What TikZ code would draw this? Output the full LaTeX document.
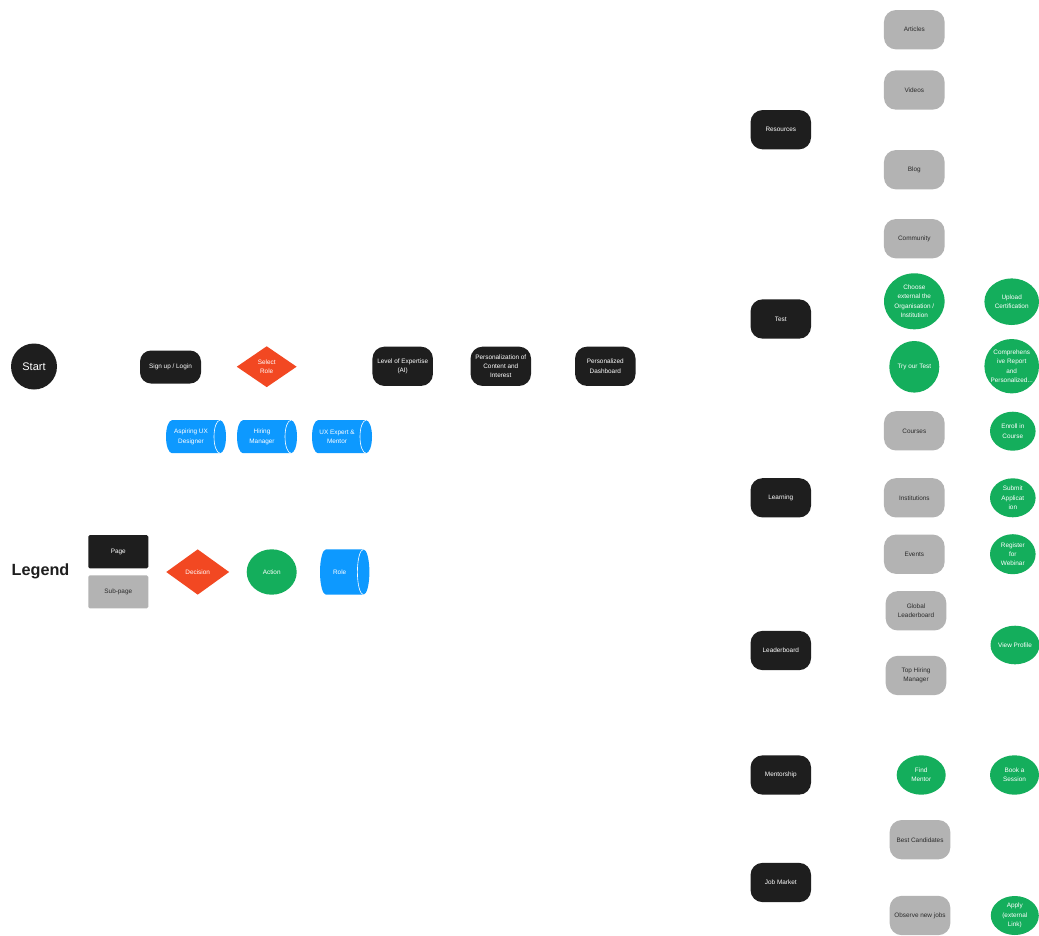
\documentclass[tikz,border=0pt]{standalone}
\usepackage{fontspec}
\setmainfont{Liberation Sans}
\usetikzlibrary{shapes.geometric}
\definecolor{pageblack}{HTML}{1E1E1E}
\definecolor{subgray}{HTML}{B3B3B3}
\definecolor{txtdark}{HTML}{2B2B2B}
\definecolor{actgreen}{HTML}{14AE5C}
\definecolor{decred}{HTML}{F24822}
\definecolor{roleblue}{HTML}{0D99FF}
\newcommand\smallfont{\fontsize{6.4}{9.3}\selectfont}
\newcommand\rolecyl[6]{%
  \fill[roleblue] (#2-#4+6,#3-#5) -- (#2+#4-6,#3-#5)
    arc[start angle=90,end angle=-90,x radius=6pt,y radius=#5pt]
    -- (#2-#4+6,#3+#5)
    arc[start angle=-90,end angle=-270,x radius=6pt,y radius=#5pt] -- cycle;
  \draw[white,line width=0.6pt] (#2+#4-6,#3-#5)
    arc[start angle=90,end angle=270,x radius=6pt,y radius=#5pt];
  \node[roletext] (#1) at (#2-5,#3) {#6};
}
\tikzset{
  pagebox/.style={fill=pageblack,rounded corners=12pt,minimum width=60.5pt,minimum height=39.3pt,
    text=white,font=\smallfont,align=center,inner sep=0pt},
  subbox/.style={fill=subgray,rounded corners=12pt,minimum width=60.7pt,minimum height=39.3pt,
    text=txtdark,font=\smallfont,align=center,inner sep=0pt},
  actnode/.style={ellipse,fill=actgreen,text=white,font=\smallfont,align=center,inner sep=-7pt},
  decnode/.style={diamond,fill=decred,text=white,font=\smallfont,align=center,inner sep=0pt},
  roletext/.style={text=white,font=\smallfont,align=center,inner sep=0pt},
}
\begin{document}
\begin{tikzpicture}[x=1pt,y=-1pt]
\useasboundingbox[fill=white] (0,0) rectangle (1039,935);

% main flow
\node[circle,fill=pageblack,minimum size=46pt,inner sep=0pt,text=white,font=\fontsize{11}{13}\selectfont] (start) at (34,366.5) {Start};
\node[pagebox,minimum width=61pt,minimum height=33pt,rounded corners=11pt] (signup) at (170.5,367) {Sign up / Login};
\node[decnode,minimum width=60pt,minimum height=41pt] (select) at (266.7,366.7) {Select\\Role};
\node[pagebox] (level) at (402.7,366.3) {Level of Expertise\\(AI)};
\node[pagebox] (pers) at (500.8,366.3) {Personalization of\\Content and\\Interest};
\node[pagebox] (dash) at (605.3,366.3) {Personalized\\Dashboard};

% roles
\rolecyl{aspiring}{196}{436.7}{30}{16.5}{Aspiring UX\\Designer}
\rolecyl{hiring}{267}{436.7}{30}{16.5}{Hiring\\Manager}
\rolecyl{expert}{342}{436.7}{30}{16.5}{UX Expert \&\\Mentor}

% legend
\node[anchor=west,inner sep=0pt,text=pageblack,font=\fontsize{16.2}{18}\selectfont\bfseries] (legend) at (11.5,571) {Legend};
\node[fill=pageblack,rounded corners=1.5pt,minimum width=60pt,minimum height=33.3pt,inner sep=0pt,text=white,font=\smallfont] (lpage) at (118.3,551.7) {Page};
\node[fill=subgray,rounded corners=1.5pt,minimum width=60pt,minimum height=33pt,inner sep=0pt,text=txtdark,font=\smallfont] (lsub) at (118.3,591.8) {Sub-page};
\node[decnode,minimum width=63pt,minimum height=45.4pt] (ldec) at (197.7,572) {Decision};
\node[actnode,minimum width=50pt,minimum height=45.4pt] (lact) at (271.7,572) {Action};
\rolecyl{lrole}{344.7}{572}{24.7}{22.7}{Role}

% pages column
\node[pagebox] (resources) at (780.8,129.7) {Resources};
\node[pagebox] (test) at (780.8,319) {Test};
\node[pagebox] (learning) at (780.8,497.8) {Learning};
\node[pagebox] (leaderboard) at (780.8,650.5) {Leaderboard};
\node[pagebox] (mentorship) at (780.8,775) {Mentorship};
\node[pagebox] (jobmarket) at (780.8,882.5) {Job Market};

% sub-pages
\node[subbox] (articles) at (914.3,29.7) {Articles};
\node[subbox] (videos) at (914.3,90) {Videos};
\node[subbox] (blog) at (914.3,169.7) {Blog};
\node[subbox] (community) at (914.3,238.7) {Community};
\node[subbox] (courses) at (914.3,430.8) {Courses};
\node[subbox] (institutions) at (914.3,497.8) {Institutions};
\node[subbox] (events) at (914.3,554.2) {Events};
\node[subbox] (global) at (916,610.8) {Global\\Leaderboard};
\node[subbox] (tophiring) at (916,675.5) {Top Hiring\\Manager};
\node[subbox] (bestcand) at (920,839.7) {Best Candidates};
\node[subbox] (observe) at (920,915.5) {Observe new jobs};

% actions
\node[actnode,minimum width=60.6pt,minimum height=56pt] (choose) at (914.3,301.3) {Choose\\external the\\Organisation /\\Institution};
\node[actnode,minimum width=54.6pt,minimum height=46.6pt] (upload) at (1011.7,301.7) {Upload\\Certification};
\node[actnode,minimum width=50pt,minimum height=51.6pt] (trytest) at (914.3,366.8) {Try our Test};
\node[actnode,minimum width=54.6pt,minimum height=54.4pt] (compr) at (1011.7,366.2) {Comprehens\\ive Report\\and\\Personalized...};
\node[actnode,minimum width=45.6pt,minimum height=39pt] (enroll) at (1012.8,431.2) {Enroll in\\Course};
\node[actnode,minimum width=45.6pt,minimum height=39pt] (submit) at (1012.8,497.8) {Submit\\Applicat\\ion};
\node[actnode,minimum width=45.6pt,minimum height=40pt] (register) at (1012.8,554.2) {Register\\for\\Webinar};
\node[actnode,minimum width=49pt,minimum height=38.6pt] (viewprofile) at (1015,645) {View Profile};
\node[actnode,minimum width=49pt,minimum height=39.4pt] (findmentor) at (921.2,775) {Find\\Mentor};
\node[actnode,minimum width=49pt,minimum height=39.4pt] (booksession) at (1014.5,775) {Book a\\Session};
\node[actnode,minimum width=48pt,minimum height=39pt] (apply) at (1014.8,915.5) {Apply\\(external\\Link)};
\end{tikzpicture}
\end{document}
